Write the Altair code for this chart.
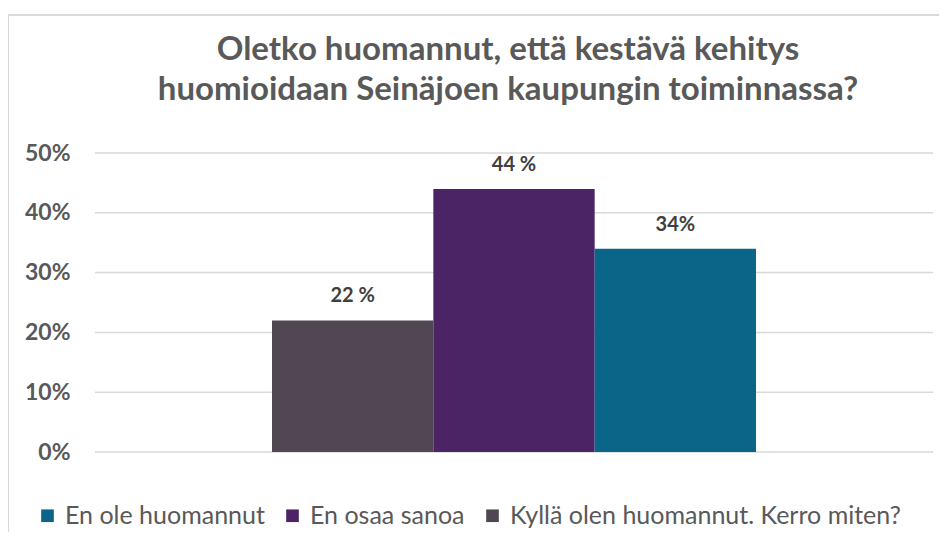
import altair as alt
import pandas as pd

categories = ["Kyllä olen huomannut. Kerro miten?", "En osaa sanoa", "En ole huomannut"]
values = [0.22, 0.44, 0.34]
labels = ["22 %", "44 %", "34%"]
legend_order = ["En ole huomannut", "En osaa sanoa", "Kyllä olen huomannut. Kerro miten?"]
legend_colors = ["#0B6589", "#4B2466", "#514753"]
y_ticks = [0, 0.1, 0.2, 0.3, 0.4, 0.5]

df = pd.DataFrame({"cat": categories, "val": values, "lab": labels})
grid_df = pd.DataFrame({"t": y_ticks})

W, H = 838, 299
FONT = "Lato"

xscale = alt.Scale(paddingInner=0, paddingOuter=0, range=[177, 661])
yscale = alt.Scale(domain=[0, 0.5])

grid = alt.Chart(grid_df).mark_rule(color="#d9d9d9", strokeWidth=1.5).encode(
    y=alt.Y("t:Q", scale=yscale,
            axis=alt.Axis(format=".0%", values=y_ticks, title=None, grid=False,
                          domain=False, ticks=False, labelPadding=25,
                          labelFont=FONT, labelFontSize=23, labelFontWeight="bold",
                          labelColor="#595959")),
    x=alt.value(0), x2=alt.value(W)
)

bars = alt.Chart(df).mark_bar().encode(
    x=alt.X("cat:N", sort=categories, axis=None, scale=xscale),
    y=alt.Y("val:Q", scale=yscale),
    color=alt.Color("cat:N", scale=alt.Scale(domain=legend_order, range=legend_colors),
                    legend=alt.Legend(title=None, orient="none", direction="horizontal",
                                      legendX=-60, legendY=350, symbolType="square",
                                      symbolSize=160, symbolStrokeWidth=0,
                                      labelFont=FONT, labelFontSize=25, labelColor="#595959",
                                      columnPadding=15, labelOffset=5, labelLimit=600))
)

text = alt.Chart(df).mark_text(baseline="middle", dy=-24, font=FONT, fontSize=20,
                               fontWeight="bold", color="#404040").encode(
    x=alt.X("cat:N", sort=categories, axis=None, scale=xscale),
    y=alt.Y("val:Q", scale=yscale), text="lab:N"
)

border_df = pd.DataFrame({"a": [0]})
top_border = alt.Chart(border_df).mark_rule(color="#d9d9d9", strokeWidth=2).encode(
    x=alt.value(-87), x2=alt.value(W + 20), y=alt.value(-138)
)
left_border = alt.Chart(border_df).mark_rule(color="#d9d9d9", strokeWidth=2).encode(
    x=alt.value(-87), y=alt.value(-138), y2=alt.value(H + 90)
)

chart = alt.layer(top_border, left_border, grid, bars, text).properties(
    width=W, height=H,
    padding={"left": 87, "top": 145, "right": 6, "bottom": 80},
    autosize=alt.AutoSizeParams(type="none"),
    title=alt.TitleParams(
        text=["Oletko huomannut, että kestävä kehitys",
              "huomioidaan Seinäjoen kaupungin toiminnassa?"],
        anchor="middle", frame="group", font=FONT, fontSize=33, fontWeight="bold",
        color="#595959", lineHeight=40, offset=-93, dx=-6
    )
).configure(background="white").configure_view(stroke=None)

chart.save("out.html", embed_options={"renderer": "svg", "actions": False})
